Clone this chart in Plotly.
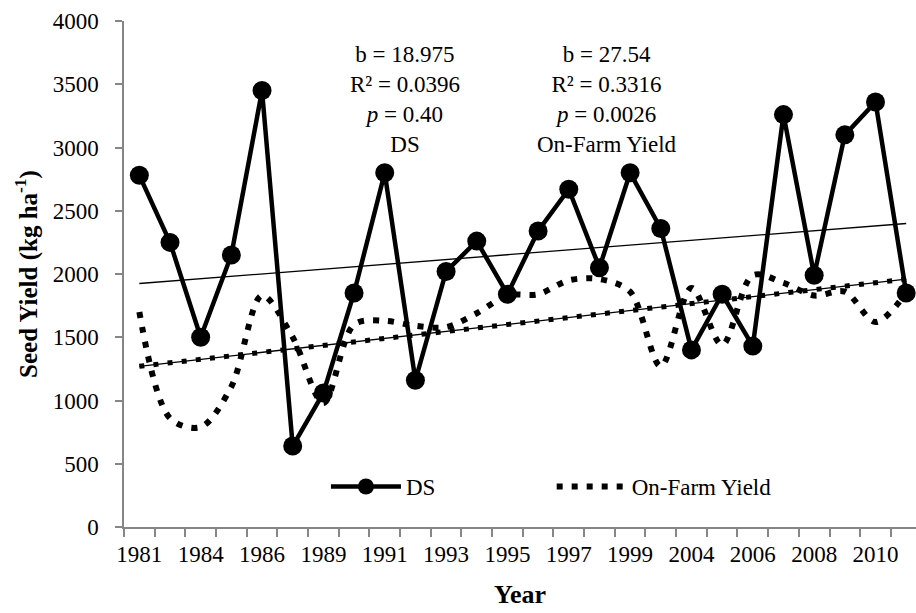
import numpy as np
import plotly.graph_objects as go

# Years on the category axis (only every other year is labelled)
years = [1981, 1983, 1984, 1985, 1986, 1988, 1989, 1990, 1991, 1992, 1993, 1994, 1995,
         1996, 1997, 1998, 1999, 2003, 2004, 2005, 2006, 2007, 2008, 2009, 2010, 2011]

# Seed yield (kg/ha)
ds_yield = [2780, 2250, 1500, 2150, 3450, 640, 1060, 1850, 2800, 1160, 2020, 2260, 1840,
            2340, 2670, 2050, 2800, 2360, 1400, 1840, 1430, 3260, 1990, 3100, 3360, 1850]
onfarm_yield = [1700, 860, 790, 1110, 1830, 1500, 980, 1600, 1630, 1590, 1580, 1690, 1830,
                1840, 1950, 1960, 1860, 1270, 1890, 1440, 1990, 1930, 1830, 1860, 1620, 1850]

# Linear trend slopes (kg/ha per year)
ds_slope = 18.975
onfarm_slope = 27.54

FONT = "'Liberation Serif', 'Times New Roman', 'DejaVu Serif', serif"
AXIS_GREY = "#868686"

x = np.arange(len(years))
tick_idx = x[::2]
tick_text = [str(years[i]) for i in tick_idx]


def trend(values, slope):
    # least-squares line passes through the mean point
    v = np.asarray(values, dtype=float)
    return v.mean() + slope * (x - x.mean())


fig = go.Figure()

fig.add_trace(go.Scatter(
    x=x, y=trend(ds_yield, ds_slope), mode="lines",
    line=dict(color="black", width=1.3), showlegend=False, hoverinfo="skip"))

of_trend = trend(onfarm_yield, onfarm_slope)
fig.add_trace(go.Scatter(
    x=x, y=of_trend, mode="lines",
    line=dict(color="black", width=1.3), showlegend=False, hoverinfo="skip"))
fig.add_trace(go.Scatter(
    x=x, y=of_trend, mode="lines",
    line=dict(color="black", width=5, dash="5px,9.2px"), showlegend=False, hoverinfo="skip"))

fig.add_trace(go.Scatter(
    x=x, y=onfarm_yield, mode="lines", name="On-Farm Yield",
    line=dict(color="black", width=6, dash="6px,9px", shape="spline", smoothing=0.9),
    legend="legend2"))

fig.add_trace(go.Scatter(
    x=x, y=ds_yield, mode="lines+markers", name="DS",
    line=dict(color="black", width=4.5),
    marker=dict(color="black", size=19, symbol="circle"),
    legend="legend"))

stat_font = dict(family=FONT, size=23, color="black")
fig.add_annotation(
    x=8.66, y=3850, xref="x", yref="y", yanchor="top", showarrow=False,
    text="b = 18.975<br>R² = 0.0396<br><i>p</i> = 0.40<br>DS", font=stat_font)
fig.add_annotation(
    x=15.24, y=3850, xref="x", yref="y", yanchor="top", showarrow=False,
    text="b = 27.54<br>R² = 0.3316<br><i>p</i> = 0.0026<br>On-Farm Yield", font=stat_font)

legend_common = dict(orientation="h", xanchor="left", yanchor="middle",
                     bgcolor="rgba(0,0,0,0)", borderwidth=0, itemwidth=70,
                     font=dict(family=FONT, size=23, color="black"))

fig.update_layout(
    width=916, height=613,
    margin=dict(l=124, r=0, t=21, b=86, autoexpand=False),
    paper_bgcolor="white", plot_bgcolor="white",
    font=dict(family=FONT, size=23, color="black"),
    legend=dict(x=0.255, y=0.08, **legend_common),
    legend2=dict(x=0.54, y=0.08, **legend_common),
    xaxis=dict(
        range=[-0.5, 25.32], showgrid=False, zeroline=False,
        showline=True, linecolor=AXIS_GREY, linewidth=1.5,
        tickmode="array", tickvals=tick_idx, ticktext=tick_text,
        ticks="outside", ticklen=0, tickcolor=AXIS_GREY,
        ticklabelstandoff=6,
        minor=dict(tickmode="array", tickvals=list(np.arange(-0.5, 26, 1.0)),
                   ticks="outside", ticklen=8, tickcolor=AXIS_GREY, tickwidth=1.5,
                   showgrid=False),
        tickfont=dict(family=FONT, size=23, color="black"),
        title=dict(text="<b>Year</b>", font=dict(family=FONT, size=26, color="black"),
                   standoff=18),
    ),
    yaxis=dict(
        range=[0, 4000], showgrid=False, zeroline=False,
        showline=True, linecolor=AXIS_GREY, linewidth=1.5,
        tickmode="array", tickvals=list(range(0, 4001, 500)),
        ticks="outside", ticklen=7, tickcolor=AXIS_GREY, tickwidth=1.5,
        ticklabelstandoff=12,
        tickfont=dict(family=FONT, size=23, color="black"),
        title=dict(text="<b>Seed Yield (kg ha<sup>-1</sup>)</b>",
                   font=dict(family=FONT, size=25, color="black"), standoff=8),
    ),
)

fig.write_html("out.html")
